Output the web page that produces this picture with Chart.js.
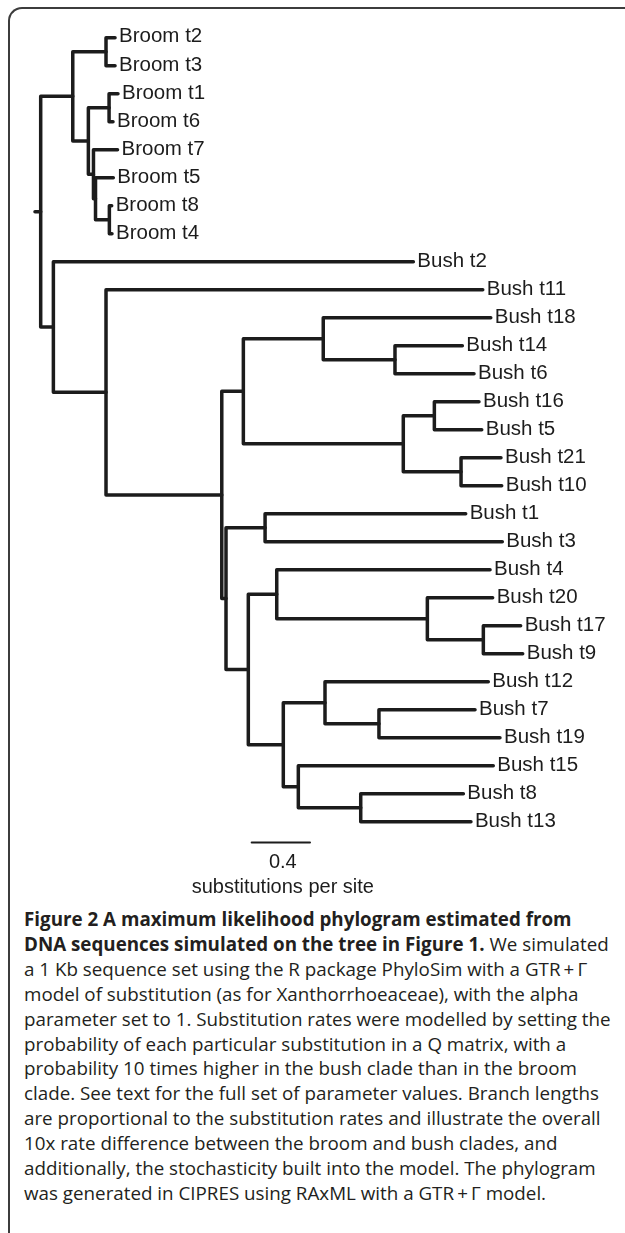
<!DOCTYPE html>
<html>
<head>
<meta charset="utf-8">
<script src="https://cdn.jsdelivr.net/npm/chart.js@4.4.1/dist/chart.umd.min.js"></script>
<style>
    html, body { margin: 0; padding: 0; background: #fff; }
    body { width: 625px; height: 1233px; position: relative; overflow: hidden; }
    #frame {
        position: absolute; left: 8px; top: 7px; width: 700px; height: 1300px;
        border-top: 2px solid #3c3c3c; border-left: 2px solid #3c3c3c;
        border-top-left-radius: 14px;
    }
    #tree { position: absolute; left: 0; top: 0; }
    #caption {
        position: absolute; left: 24px; top: 907px;
        font-family: 'Open Sans', sans-serif; font-size: 18.8px; line-height: 24.9px;
        color: #231f20; white-space: nowrap;
    }
    #caption b { font-weight: 700; }
</style>
</head>
<body>
<div id="frame"></div>
<canvas id="tree" width="625" height="900"></canvas>
<div id="caption">
<b>Figure 2 A maximum likelihood phylogram estimated from</b><br>
<b>DNA sequences simulated on the tree in Figure 1.</b> We simulated<br>
a 1 Kb sequence set using the R package PhyloSim with a GTR&#8201;+&#8201;Γ<br>
model of substitution (as for Xanthorrhoeaceae), with the alpha<br>
parameter set to 1. Substitution rates were modelled by setting the<br>
probability of each particular substitution in a Q matrix, with a<br>
probability 10 times higher in the bush clade than in the broom<br>
clade. See text for the full set of parameter values. Branch lengths<br>
are proportional to the substitution rates and illustrate the overall<br>
10x rate difference between the broom and bush clades, and<br>
additionally, the stochasticity built into the model. The phylogram<br>
was generated in CIPRES using RAxML with a GTR&#8201;+&#8201;Γ model.
</div>
<script>
// Tips, top to bottom, and their distance from the root (substitutions per site)
const tipLabels = [
    'Broom t2', 'Broom t3', 'Broom t1', 'Broom t6', 'Broom t7', 'Broom t5', 'Broom t8', 'Broom t4',
    'Bush t2', 'Bush t11', 'Bush t18', 'Bush t14', 'Bush t6', 'Bush t16', 'Bush t5', 'Bush t21',
    'Bush t10', 'Bush t1', 'Bush t3', 'Bush t4', 'Bush t20', 'Bush t17', 'Bush t9', 'Bush t12',
    'Bush t7', 'Bush t19', 'Bush t15', 'Bush t8', 'Bush t13'
];
const tipDepth = [
    0.549, 0.549, 0.569, 0.535, 0.566, 0.537, 0.526, 0.528,
    2.595, 3.071, 3.126, 2.931, 3.011, 3.045, 3.064, 3.196,
    3.201, 2.954, 3.205, 3.121, 3.139, 3.331, 3.345, 3.109,
    3.018, 3.189, 3.143, 2.938, 2.990
];

// Internal nodes: name, depth and two children
const nodeNames = [
    'root', 'broom', 'br23', 'brC', 'br16', 'brD', 'brE', 'br84',
    'bush', 'X2', 'X3', 'X5', 'X6', 'X7', 'X8', 'X9', 'X10',
    'X4', 'Y', 'X11', 'X12', 'X13', 'X14', 'X15', 'X16', 'X17', 'X18', 'X19'
];
const nodeDepth = [
    0.039, 0.259, 0.487, 0.366, 0.508, 0.401, 0.415, 0.510,
    0.126, 0.487, 1.281, 1.429, 1.977, 2.469, 2.526, 2.739, 2.922,
    1.310, 1.578, 1.463, 1.658, 2.691, 3.075, 1.703, 1.989, 2.359, 1.806, 2.234
];
const nodeKids = [
    ['broom', 'bush'], ['br23', 'brC'], ['Broom t2', 'Broom t3'], ['br16', 'brD'],
    ['Broom t1', 'Broom t6'], ['Broom t7', 'brE'], ['Broom t5', 'br84'], ['Broom t8', 'Broom t4'],
    ['Bush t2', 'X2'], ['Bush t11', 'X3'], ['X5', 'X4'], ['X6', 'X8'], ['Bush t18', 'X7'],
    ['Bush t14', 'Bush t6'], ['X9', 'X10'], ['Bush t16', 'Bush t5'], ['Bush t21', 'Bush t10'],
    ['Y', 'X11'], ['Bush t1', 'Bush t3'], ['X12', 'X15'], ['Bush t4', 'X13'], ['Bush t20', 'X14'],
    ['Bush t17', 'Bush t9'], ['X16', 'X18'], ['Bush t12', 'X17'], ['Bush t7', 'Bush t19'],
    ['Bush t15', 'X19'], ['Bush t8', 'Bush t13']
];

// Scale bar
const scaleBarLength = 0.4;
const scaleBarStart = 1.486;
const scaleBarRow = 28.74;
const scaleBarLabel = '0.4';
const scaleBarUnit = 'substitutions per site';

const inkColor = '#1c1c1c';
const labelFont = '20.5px "Liberation Sans", Arial, Helvetica, sans-serif';

function depthOf(name) {
    const t = tipLabels.indexOf(name);
    if (t >= 0) return tipDepth[t];
    return nodeDepth[nodeNames.indexOf(name)];
}

function rowOf(name) {
    const t = tipLabels.indexOf(name);
    if (t >= 0) return t;
    const kids = nodeKids[nodeNames.indexOf(name)];
    return (rowOf(kids[0]) + rowOf(kids[kids.length - 1])) / 2;
}

function branch(points, width) {
    return {
        data: points.map(p => ({ x: p[0], y: p[1] })),
        showLine: true,
        borderColor: inkColor,
        borderWidth: width || 3.5,
        borderCapStyle: 'round',
        borderJoinStyle: 'round',
        pointRadius: 0,
        tension: 0
    };
}

const datasets = [];
// root edge
const rootRow = rowOf('root');
datasets.push(branch([[0, rootRow], [depthOf('root'), rootRow]]));
// one bracket per internal node
nodeNames.forEach((name, k) => {
    const kids = nodeKids[k];
    const a = kids[0];
    const b = kids[kids.length - 1];
    datasets.push(branch([
        [depthOf(a), rowOf(a)],
        [nodeDepth[k], rowOf(a)],
        [nodeDepth[k], rowOf(b)],
        [depthOf(b), rowOf(b)]
    ]));
});
datasets.push(branch([[scaleBarStart, scaleBarRow], [scaleBarStart + scaleBarLength, scaleBarRow]], 2));

const textPlugin = {
    id: 'treeText',
    afterDatasetsDraw(chart) {
        const { ctx, scales: { x, y } } = chart;
        ctx.save();
        ctx.fillStyle = inkColor;
        ctx.font = labelFont;
        ctx.textBaseline = 'alphabetic';
        ctx.textAlign = 'left';
        tipLabels.forEach((lab, i) => {
            ctx.fillText(lab, x.getPixelForValue(tipDepth[i]) + 4, y.getPixelForValue(i) + 4.8);
        });
        const mid = x.getPixelForValue(scaleBarStart + scaleBarLength / 2);
        const barY = y.getPixelForValue(scaleBarRow);
        ctx.textAlign = 'center';
        ctx.font = '20px "Liberation Sans", Arial, Helvetica, sans-serif';
        ctx.fillText(scaleBarLabel, mid + 2, barY + 26);
        ctx.fillText(scaleBarUnit, mid + 2, barY + 51);
        ctx.restore();
    }
};

new Chart(document.getElementById('tree'), {
    type: 'scatter',
    data: { datasets: datasets },
    options: {
        responsive: false,
        animation: false,
        devicePixelRatio: 1,
        layout: { padding: 0 },
        plugins: { legend: { display: false }, tooltip: { enabled: false } },
        scales: {
            x: { type: 'linear', min: -0.2401, max: 4.0466, display: false },
            y: { type: 'linear', min: -1.3464, max: 30.796, reverse: true, display: false }
        }
    },
    plugins: [textPlugin]
});
</script>
</body>
</html>
